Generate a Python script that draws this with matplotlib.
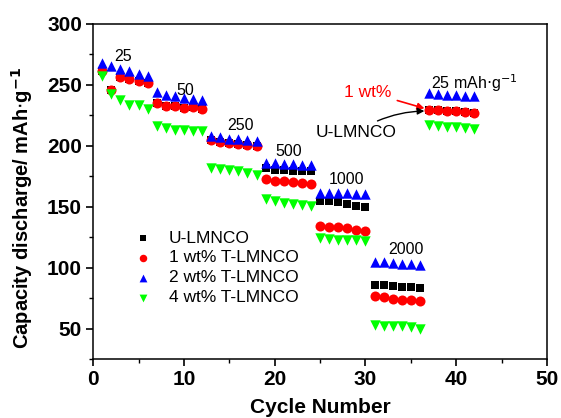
import numpy as np
import matplotlib
matplotlib.use("Agg")
import matplotlib.pyplot as plt
from matplotlib.ticker import MultipleLocator

plt.rcParams["font.family"] = ["Liberation Sans", "DejaVu Sans"]

cycles = np.arange(1, 43)

u_lmnco = [261, 246, 256, 254.7, 253.3, 251.4,
           235, 232.8, 232.2, 230.9, 231.4, 230,
           204.4, 202.7, 202.2, 201.6, 200.8, 199.4,
           181.7, 180.3, 179.8, 179.5, 179.5, 179,
           154.9, 154.3, 153.5, 152.5, 150.8, 149.8,
           86, 85.5, 84.7, 84.2, 83.9, 83.4,
           229.5, 228.9, 228.7, 228.1, 227.3, 226.8]
wt1 = [261, 246, 256, 254.7, 253.3, 251.4,
       235, 232.8, 232.2, 230.9, 231.4, 230,
       204.4, 202.7, 202.2, 201.6, 200.8, 199.4,
       172.9, 171.3, 170.7, 170.2, 169.4, 168.9,
       134.4, 133.3, 133, 132.5, 131.1, 130.3,
       76.5, 75.7, 74.3, 73.8, 73.2, 73,
       229.5, 228.9, 228.7, 228.1, 227.3, 226.8]
wt2 = [267.8, 265.6, 262.9, 260.9, 259, 257.4,
       243.7, 241.8, 240.4, 239.1, 238.3, 237.7,
       208, 206.8, 205.8, 205.2, 204.7, 203.5,
       186, 185.5, 185, 185, 184.5, 183.8,
       161.5, 161.5, 161, 161, 160.5, 160,
       105, 104.4, 103.4, 102.8, 102.6, 102,
       243, 242.4, 242, 241.8, 241.2, 240.5]
wt4 = [257, 242.4, 237.7, 233.6, 233.6, 230,
       216.4, 214.5, 213.1, 212.6, 211.7, 211.7,
       181.7, 180.9, 179.8, 179, 177.6, 176.2,
       156.3, 154.4, 153, 152.5, 151.7, 150.8,
       124.3, 123.5, 123, 123, 122.4, 121.6,
       53.3, 52.5, 52.5, 51.9, 51.4, 49.8,
       217.2, 215.8, 215.3, 215, 214.5, 213.7]

rate_labels = ["25", "50", "250", "500", "1000", "2000"]
rate_pos = [(3.3, 273), (10.2, 245), (16.2, 217), (21.5, 195), (27.9, 172), (34.5, 115)]

fig = plt.figure(figsize=(5.61, 4.18), dpi=100)
ax = fig.add_axes([0.166, 0.141, 0.809, 0.802])

ax.scatter(cycles, u_lmnco, marker="s", s=40, color="black", lw=0, label="U-LMNCO", zorder=3)
ax.scatter(cycles, wt1, marker="o", s=52, color="#ff0000", lw=0, label="1 wt% T-LMNCO", zorder=4)
ax.scatter(cycles, wt2, marker="^", s=56, color="#0000ff", lw=0, label="2 wt% T-LMNCO", zorder=5)
ax.scatter(cycles, wt4, marker="v", s=56, color="#00ff00", lw=0, label="4 wt% T-LMNCO", zorder=5)

for lab, (x, y) in zip(rate_labels, rate_pos):
    ax.text(x, y, lab, fontsize=11.5, ha="center", va="center")
ax.text(37.2, 251.5, r"25 mAh$\cdot$g$^{-1}$", fontsize=11.5, ha="left", va="center")

ax.annotate("1 wt%", xy=(36.8, 230), xytext=(30.3, 244), color="#ff0000",
            fontsize=12.5, ha="center", va="center",
            arrowprops=dict(arrowstyle="-|>", color="#ff0000", lw=1.2, mutation_scale=10))
ax.annotate("U-LMNCO", xy=(36.8, 228.5), xytext=(29.0, 211), color="black",
            fontsize=12.5, ha="center", va="center",
            arrowprops=dict(arrowstyle="-|>", color="black", lw=1.0, mutation_scale=10,
                            connectionstyle="arc3,rad=-0.15"))

ax.set_xlim(0, 50)
ax.set_ylim(25, 300)
ax.xaxis.set_major_locator(MultipleLocator(10))
ax.xaxis.set_minor_locator(MultipleLocator(5))
ax.yaxis.set_minor_locator(MultipleLocator(25))
ax.set_yticks([50, 100, 150, 200, 250, 300])
ax.tick_params(which="major", direction="out", length=5, width=1.2, labelsize=15, pad=3)
ax.tick_params(which="minor", direction="out", length=3, width=1.0)
for t in ax.get_xticklabels() + ax.get_yticklabels():
    t.set_fontweight("bold")
for sp in ax.spines.values():
    sp.set_linewidth(1.1)

ax.set_xlabel("Cycle Number", fontsize=15, fontweight="bold", labelpad=6)
ax.set_ylabel(r"Capacity discharge/ mAh$\cdot$g$^{\mathbf{-1}}$", fontsize=14.5,
              fontweight="bold")
ax.yaxis.set_label_coords(-0.128, 0.45)

ax.legend(loc="upper left", bbox_to_anchor=(0.045, 0.42), frameon=False, fontsize=12.5,
          handletextpad=0.5, labelspacing=0.27, borderpad=0.2, markerscale=0.75)

fig.savefig("out.png", dpi=100)
